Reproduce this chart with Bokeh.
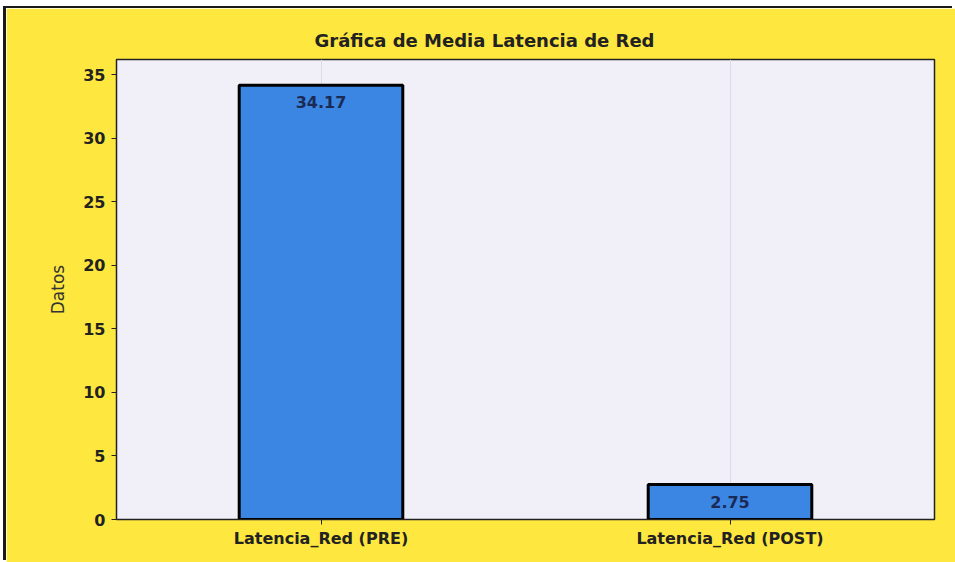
from bokeh.plotting import figure
from bokeh.models import ColumnDataSource, LabelSet, FixedTicker
from bokeh.core.properties import value
from bokeh.embed import file_html
from bokeh.resources import INLINE

categories = ["Latencia_Red (PRE)", "Latencia_Red (POST)"]
values = [34.17, 2.75]
labels = ["34.17", "2.75"]
y_ticks = [0, 5, 10, 15, 20, 25, 30, 35]
title_text = "Gráfica de Media Latencia de Red"

FONT = "DejaVu Sans"
YELLOW = "#FEE73F"

src = ColumnDataSource(dict(cat=categories, val=values, lab=labels))

p = figure(x_range=categories, y_range=(0, 36.2), width=949, height=554,
           output_backend="svg", toolbar_location=None,
           min_border_left=110, min_border_right=21, min_border_top=51, min_border_bottom=43)
p.margin = (8, 0, 0, 6)
p.styles = {"box-shadow": "-3px -2px 0px 0px #1a1a1a"}
p.x_range.range_padding = 0.0
p.border_fill_color = YELLOW
p.background_fill_color = "#F1EFF8"
p.outline_line_color = "#222222"
p.outline_line_width = 1.5

p.title.text = title_text
p.title.align = "left"
p.title.offset = 198
p.title.standoff = 18
p.title.text_font = FONT
p.title.text_font_size = "18px"
p.title.text_font_style = "bold"
p.title.text_color = "#222222"

p.vbar(x="cat", top="val", width=0.4, source=src, fill_color="#3B86E3",
       line_color="black", line_width=3)

lbl = LabelSet(x="cat", y="val", text="lab", source=src, y_offset=-11,
               text_align="center", text_baseline="top", text_font=value(FONT),
               text_font_size="16px", text_font_style="bold", text_color="#1B2A55")
p.add_layout(lbl)

p.ygrid.grid_line_color = None
p.xgrid.grid_line_color = "#DCDCE6"
p.xgrid.grid_line_width = 1

p.yaxis.ticker = FixedTicker(ticks=y_ticks)
p.yaxis.axis_label = "Datos"
p.yaxis.axis_label_text_font = FONT
p.yaxis.axis_label_text_font_size = "17px"
p.yaxis.axis_label_text_font_style = "normal"
p.yaxis.axis_label_text_color = "#333333"
p.yaxis.axis_label_standoff = 12
p.yaxis.minor_tick_line_color = None

for ax in (p.xaxis, p.yaxis):
    ax.major_label_text_font = FONT
    ax.major_label_text_font_size = "16px"
    ax.major_label_text_font_style = "bold"
    ax.major_label_text_color = "#222222"
    ax.axis_line_color = "#222222"
    ax.major_tick_line_color = "#222222"
    ax.major_tick_out = 5
    ax.major_tick_in = 0
p.yaxis.major_label_standoff = 6
p.xaxis.major_label_standoff = 4

open("out.html", "w").write(file_html(p, INLINE))
